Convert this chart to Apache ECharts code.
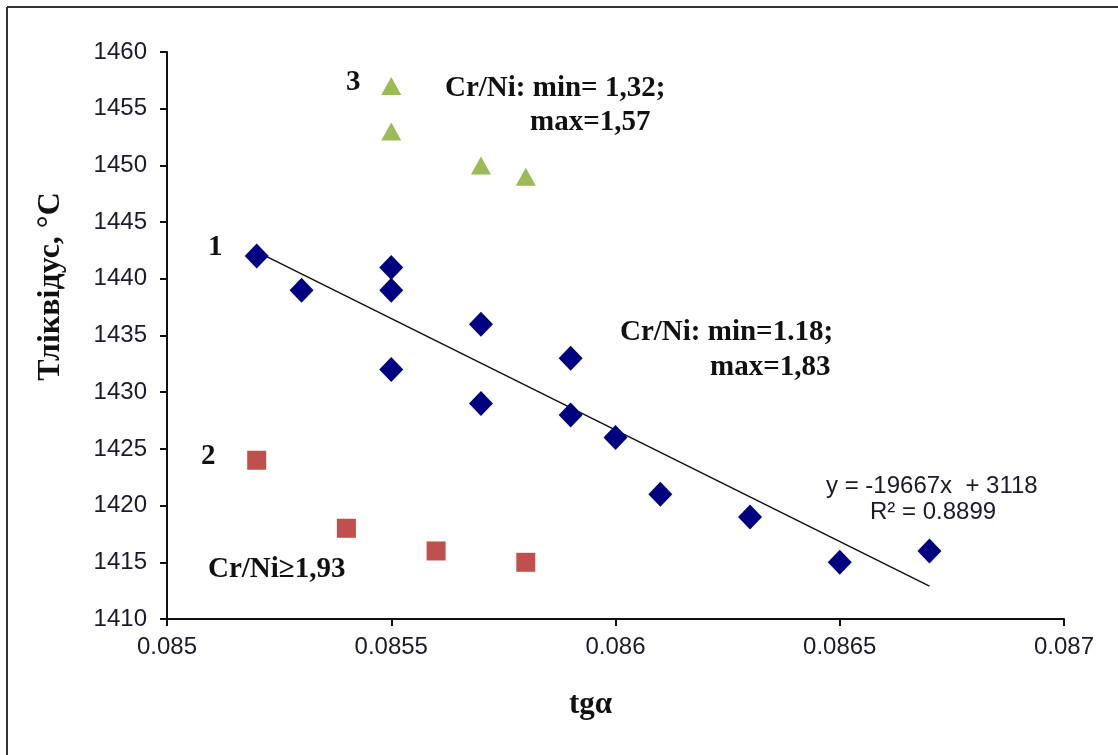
<!DOCTYPE html>
<html>
<head>
<meta charset="utf-8">
<script src="https://cdn.jsdelivr.net/npm/echarts@6/dist/echarts.min.js"></script>
<style>
  html, body { margin: 0; padding: 0; background: #fff; }
  #chart { width: 1118px; height: 755px; }
</style>
</head>
<body>
<div id="chart"></div>
<script>
  // group 1 (diamonds), Cr/Ni 1.18 .. 1.83
  var group1X = [0.0852, 0.0853, 0.0855, 0.0855, 0.0855, 0.0857, 0.0857, 0.0859, 0.0859, 0.0860, 0.0861, 0.0863, 0.0865, 0.0867];
  var group1Y = [1442, 1439, 1441, 1439, 1432, 1436, 1429, 1433, 1428, 1426, 1421, 1419, 1415, 1416];
  // group 2 (squares), Cr/Ni >= 1.93
  var group2X = [0.0852, 0.0854, 0.0856, 0.0858];
  var group2Y = [1424, 1418, 1416, 1415];
  // group 3 (triangles), Cr/Ni 1.32 .. 1.57
  var group3X = [0.0855, 0.0855, 0.0857, 0.0858];
  var group3Y = [1457, 1453, 1450, 1449];
  // linear trend of group 1, endpoints
  var trendX = [0.0852, 0.0867];
  var trendY = [1442.4, 1412.9];

  function pairs(xs, ys) {
    return xs.map(function (x, i) { return [x, ys[i]]; });
  }

  var serif = '"Liberation Serif", "DejaVu Serif", serif';
  var sans = '"Liberation Sans", Arial, sans-serif';

  var chart = echarts.init(document.getElementById('chart'));
  var option = {
    backgroundColor: '#FFFFFF',
    animation: false,
    grid: { left: 167, right: 54, top: 52, bottom: 136 },
    xAxis: {
      type: 'value',
      min: 0.085,
      max: 0.087,
      interval: 0.0005,
      name: 'tgα',
      nameLocation: 'middle',
      nameGap: 70,
      nameTextStyle: { fontFamily: serif, fontWeight: 'bold', fontSize: 31, color: '#111', padding: [0, 50, 0, 0] },
      axisLine: { lineStyle: { color: '#111', width: 2 } },
      axisTick: { length: 7, lineStyle: { color: '#111', width: 2 } },
      axisLabel: { fontFamily: sans, fontSize: 24, color: '#1a1a2a', margin: 16, formatter: function (v) { return String(v); } },
      splitLine: { show: false }
    },
    yAxis: {
      type: 'value',
      min: 1410,
      max: 1460,
      interval: 5,
      name: 'Тліквідус, °С',
      nameLocation: 'middle',
      nameGap: 100,
      nameTextStyle: { fontFamily: serif, fontWeight: 'bold', fontSize: 32, color: '#111', padding: [0, 0, 0, 98] },
      axisLine: { lineStyle: { color: '#111', width: 2 } },
      axisTick: { length: 7, lineStyle: { color: '#111', width: 2 } },
      axisLabel: { fontFamily: sans, fontSize: 24, color: '#1a1a2a', margin: 20, formatter: function (v) { return String(v); } },
      splitLine: { show: false }
    },
    series: [
      {
        name: 'trend',
        type: 'line',
        data: pairs(trendX, trendY),
        symbol: 'none',
        lineStyle: { color: '#111', width: 1.5 },
        z: 1
      },
      {
        name: '1',
        type: 'scatter',
        data: pairs(group1X, group1Y),
        symbol: 'diamond',
        symbolSize: [24, 25],
        itemStyle: { color: '#000080', opacity: 1 },
        z: 3
      },
      {
        name: '2',
        type: 'scatter',
        data: pairs(group2X, group2Y),
        symbol: 'rect',
        symbolSize: 19,
        itemStyle: { color: '#C0504D', opacity: 1 },
        z: 3
      },
      {
        name: '3',
        type: 'scatter',
        data: pairs(group3X, group3Y),
        symbol: 'triangle',
        symbolSize: [20, 18],
        itemStyle: { color: '#9BBB59', opacity: 1 },
        z: 3
      }
    ],
    graphic: [
      { type: 'line', shape: { x1: 7, y1: 7, x2: 1118, y2: 7 }, style: { stroke: '#333', lineWidth: 2 } },
      { type: 'line', shape: { x1: 7, y1: 7, x2: 7, y2: 755 }, style: { stroke: '#333', lineWidth: 2 } },
      { type: 'text', left: 208, top: 233, style: { text: '1', font: 'bold 29px ' + serif, fill: '#111' } },
      { type: 'text', left: 201, top: 442, style: { text: '2', font: 'bold 29px ' + serif, fill: '#111' } },
      { type: 'text', left: 346, top: 68, style: { text: '3', font: 'bold 29px ' + serif, fill: '#111' } },
      { type: 'text', left: 445, top: 74, style: { text: 'Cr/Ni: min= 1,32;', font: 'bold 29px ' + serif, fill: '#111' } },
      { type: 'text', left: 530, top: 108, style: { text: 'max=1,57', font: 'bold 29px ' + serif, fill: '#111' } },
      { type: 'text', left: 620, top: 318, style: { text: 'Cr/Ni: min=1.18;', font: 'bold 29px ' + serif, fill: '#111' } },
      { type: 'text', left: 710, top: 353, style: { text: 'max=1,83', font: 'bold 29px ' + serif, fill: '#111' } },
      { type: 'text', left: 208, top: 555, style: { text: 'Cr/Ni≥1,93', font: 'bold 29px ' + serif, fill: '#111' } },
      { type: 'text', left: 826, top: 474, style: { text: 'y = -19667x  + 3118', font: '24px ' + sans, fill: '#1a1a2a' } },
      { type: 'text', left: 870, top: 500, style: { text: 'R² = 0.8899', font: '24px ' + sans, fill: '#1a1a2a' } }
    ]
  };
  chart.setOption(option);
</script>
</body>
</html>
